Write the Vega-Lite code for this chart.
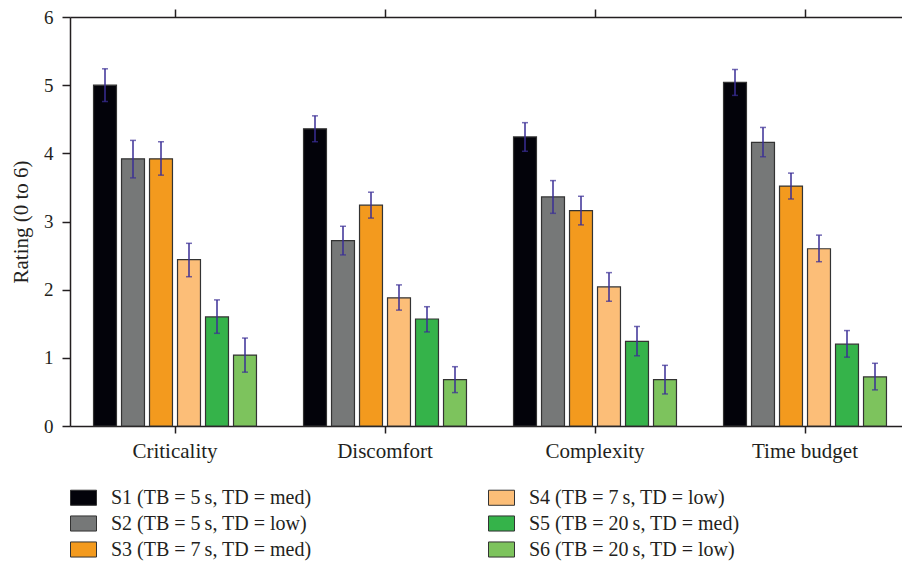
{
  "$schema": "https://vega.github.io/schema/vega-lite/v6.json",
  "autosize": "none",
  "width": 840,
  "height": 409,
  "padding": {"left": 70, "top": 17, "right": 0, "bottom": 136},
  "background": "white",
  "config": {
    "view": {"stroke": null},
    "font": "Liberation Serif",
    "axis": {"labelFont": "Liberation Serif", "titleFont": "Liberation Serif", "labelColor": "#231f20", "titleColor": "#231f20", "domainColor": "#231f20", "tickColor": "#231f20", "grid": false, "domainWidth": 1.5, "tickWidth": 1.5},
    "legend": {"labelFont": "Liberation Serif"}
  },
  "data": {"values": [
    {"cat": "Criticality", "s": "S1", "v": 5.0, "lo": 4.76, "hi": 5.24},
    {"cat": "Criticality", "s": "S2", "v": 3.92, "lo": 3.64, "hi": 4.19},
    {"cat": "Criticality", "s": "S3", "v": 3.92, "lo": 3.68, "hi": 4.17},
    {"cat": "Criticality", "s": "S4", "v": 2.44, "lo": 2.19, "hi": 2.68},
    {"cat": "Criticality", "s": "S5", "v": 1.6, "lo": 1.36, "hi": 1.85},
    {"cat": "Criticality", "s": "S6", "v": 1.04, "lo": 0.79, "hi": 1.29},
    {"cat": "Discomfort", "s": "S1", "v": 4.36, "lo": 4.17, "hi": 4.55},
    {"cat": "Discomfort", "s": "S2", "v": 2.72, "lo": 2.51, "hi": 2.93},
    {"cat": "Discomfort", "s": "S3", "v": 3.24, "lo": 3.05, "hi": 3.43},
    {"cat": "Discomfort", "s": "S4", "v": 1.88, "lo": 1.7, "hi": 2.07},
    {"cat": "Discomfort", "s": "S5", "v": 1.57, "lo": 1.38, "hi": 1.75},
    {"cat": "Discomfort", "s": "S6", "v": 0.68, "lo": 0.49, "hi": 0.87},
    {"cat": "Complexity", "s": "S1", "v": 4.24, "lo": 4.03, "hi": 4.45},
    {"cat": "Complexity", "s": "S2", "v": 3.36, "lo": 3.12, "hi": 3.6},
    {"cat": "Complexity", "s": "S3", "v": 3.16, "lo": 2.95, "hi": 3.37},
    {"cat": "Complexity", "s": "S4", "v": 2.04, "lo": 1.83, "hi": 2.25},
    {"cat": "Complexity", "s": "S5", "v": 1.24, "lo": 1.03, "hi": 1.46},
    {"cat": "Complexity", "s": "S6", "v": 0.68, "lo": 0.47, "hi": 0.89},
    {"cat": "Time budget", "s": "S1", "v": 5.04, "lo": 4.85, "hi": 5.23},
    {"cat": "Time budget", "s": "S2", "v": 4.16, "lo": 3.95, "hi": 4.38},
    {"cat": "Time budget", "s": "S3", "v": 3.52, "lo": 3.33, "hi": 3.71},
    {"cat": "Time budget", "s": "S4", "v": 2.6, "lo": 2.41, "hi": 2.8},
    {"cat": "Time budget", "s": "S5", "v": 1.2, "lo": 1.01, "hi": 1.4},
    {"cat": "Time budget", "s": "S6", "v": 0.72, "lo": 0.53, "hi": 0.92}
  ]},
  "transform": [
    {"lookup": "s", "from": {"data": {"values": [
      {"s": "S1", "label": "S1 (TB = 5\u2009s, TD = med)"},
      {"s": "S2", "label": "S2 (TB = 5\u2009s, TD = low)"},
      {"s": "S3", "label": "S3 (TB = 7\u2009s, TD = med)"},
      {"s": "S4", "label": "S4 (TB = 7\u2009s, TD = low)"},
      {"s": "S5", "label": "S5 (TB = 20\u2009s, TD = med)"},
      {"s": "S6", "label": "S6 (TB = 20\u2009s, TD = low)"}
    ]}, "key": "s", "fields": ["label"]}}
  ],
  "layer": [
    {
      "mark": {"type": "bar", "stroke": "#333333", "strokeWidth": 1.2},
      "encoding": {
        "x": {"field": "cat", "type": "nominal", "sort": ["Criticality", "Discomfort", "Complexity", "Time budget"], "scale": {"paddingInner": 0, "paddingOuter": 0}, "axis": {"orient": "bottom", "title": null, "labelAngle": 0, "labelFontSize": 21, "tickSize": 7, "labelPadding": 7, "domain": true}},
        "xOffset": {"field": "s", "type": "nominal", "sort": ["S1", "S2", "S3", "S4", "S5", "S6"], "scale": {"paddingInner": 0.18, "paddingOuter": 0.84}},
        "y": {"field": "v", "type": "quantitative", "scale": {"domain": [0, 6], "nice": false}, "axis": {"title": "Rating (0 to 6)", "titleFontSize": 21, "titleFontWeight": "normal", "titlePadding": 12, "labelFontSize": 19, "tickSize": 8, "labelPadding": 9, "values": [0, 1, 2, 3, 4, 5, 6], "format": "d"}},
        "color": {"field": "label", "type": "nominal",
          "scale": {
            "domain": ["S1 (TB = 5\u2009s, TD = med)", "S2 (TB = 5\u2009s, TD = low)", "S3 (TB = 7\u2009s, TD = med)", "S4 (TB = 7\u2009s, TD = low)", "S5 (TB = 20\u2009s, TD = med)", "S6 (TB = 20\u2009s, TD = low)"],
            "range": ["#03030a", "#767878", "#f39a1e", "#fcbe78", "#35b34a", "#7dc35d"]
          },
          "legend": {"title": null, "orient": "none", "legendX": 0, "legendY": 467, "columns": 2, "columnPadding": 174, "rowPadding": 2, "labelFontSize": 20, "labelLimit": 400, "labelColor": "#231f20", "symbolType": "M-1,-0.58H1V0.58H-1Z", "symbolSize": 676, "symbolStrokeColor": "#333333", "symbolStrokeWidth": 1, "labelOffset": 14, "symbolOpacity": 1}
        }
      }
    },
    {
      "mark": {"type": "rule", "color": "#3a2e96", "strokeWidth": 1.5},
      "encoding": {
        "x": {"field": "cat", "type": "nominal", "sort": ["Criticality", "Discomfort", "Complexity", "Time budget"], "axis": {"orient": "top", "title": null, "labels": false, "tickSize": 8, "domain": true}},
        "xOffset": {"field": "s", "type": "nominal", "sort": ["S1", "S2", "S3", "S4", "S5", "S6"]},
        "y": {"field": "lo", "type": "quantitative", "axis": null},
        "y2": {"field": "hi"}
      }
    },
    {
      "mark": {"type": "tick", "color": "#3a2e96", "size": 6, "thickness": 1.5},
      "encoding": {
        "x": {"field": "cat", "type": "nominal", "sort": ["Criticality", "Discomfort", "Complexity", "Time budget"], "axis": null},
        "xOffset": {"field": "s", "type": "nominal", "sort": ["S1", "S2", "S3", "S4", "S5", "S6"]},
        "y": {"field": "lo", "type": "quantitative", "axis": null}
      }
    },
    {
      "mark": {"type": "tick", "color": "#3a2e96", "size": 6, "thickness": 1.5},
      "encoding": {
        "x": {"field": "cat", "type": "nominal", "sort": ["Criticality", "Discomfort", "Complexity", "Time budget"], "axis": null},
        "xOffset": {"field": "s", "type": "nominal", "sort": ["S1", "S2", "S3", "S4", "S5", "S6"]},
        "y": {"field": "hi", "type": "quantitative", "axis": null}
      }
    }
  ],
  "resolve": {"axis": {"x": "independent", "y": "independent"}}
}
